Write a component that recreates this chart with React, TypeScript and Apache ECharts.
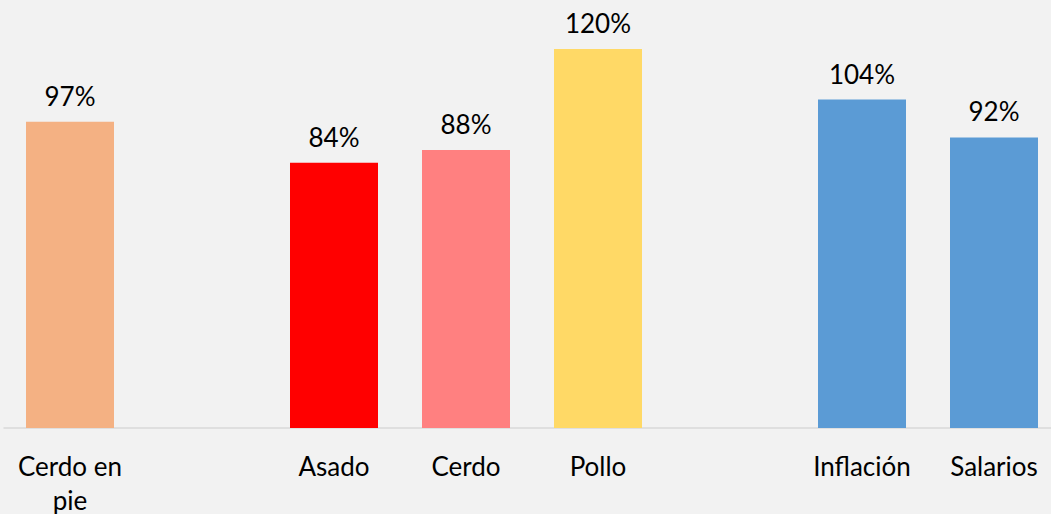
import React, { useEffect, useRef } from "react";
import * as echarts from "echarts";

const categories = ["Cerdo en\npie", "", "Asado", "Cerdo", "Pollo", "", "Inflación", "Salarios"];
const values: (number | null)[] = [97, null, 84, 88, 120, null, 104, 92];
const colors = ["#F4B183", "#F2F2F2", "#FF0000", "#FF8080", "#FFD966", "#F2F2F2", "#5B9BD5", "#5B9BD5"];

export default function App() {
  const ref = useRef<HTMLDivElement>(null);
  useEffect(() => {
    if (!ref.current) return;
    const chart = echarts.init(ref.current, undefined, { renderer: "svg" });
    chart.setOption({
      animation: false,
      backgroundColor: "#F2F2F2",
      grid: { left: 4, right: -9, top: 49, bottom: 86, containLabel: false, outerBoundsMode: "none" },
      xAxis: {
        type: "category",
        data: categories,
        axisLine: { lineStyle: { color: "#D9D9D9", width: 1.5 } },
        axisTick: { show: false },
        axisLabel: {
          interval: 0,
          color: "#000",
          fontFamily: "Lato",
          fontSize: 26,
          lineHeight: 34,
          margin: 21,
        },
      },
      yAxis: {
        type: "value",
        min: 0,
        max: 120,
        show: false,
        splitLine: { show: false },
      },
      series: [
        {
          type: "bar",
          barWidth: 88,
          data: values.map((v, i) => ({ value: v, itemStyle: { color: colors[i] } })),
          label: {
            show: true,
            position: "top",
            distance: 13,
            formatter: (p: any) => (p.value == null ? "" : p.value + "%"),
            color: "#000",
            fontFamily: "Lato",
            fontSize: 26,
          },
        },
      ],
    });
    return () => chart.dispose();
  }, []);
  return <div ref={ref} style={{ position: "fixed", left: 0, top: 0, width: 1051, height: 514 }} />;
}
